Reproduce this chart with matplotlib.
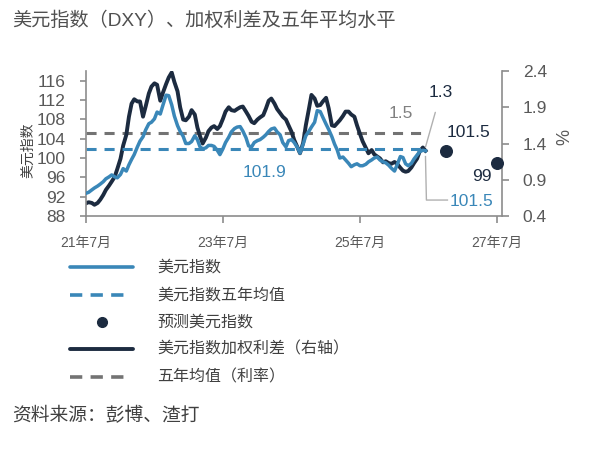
import numpy as np
import pandas as pd
import matplotlib
matplotlib.use('Agg')
import matplotlib.pyplot as plt
from matplotlib.lines import Line2D

plt.rcParams['font.family'] = ['Liberation Sans', 'Noto Sans CJK SC', 'DejaVu Sans']

# 数据（半月频，2021-07 至 2026-06）
fechas = pd.date_range('2021-07-01', periods=120, freq='SMS')

dxy = [92.7, 92.9, 93.4, 93.8, 94.2, 94.6, 95.1, 95.7, 96.1, 96.5,
       96.1, 95.9, 96.6, 97.8, 97.3, 98.6, 99.7, 100.7, 102.3, 103.5,
       104.4, 105.8, 107.1, 107.4, 108.1, 109.5, 109.1, 110.9, 113.0, 112.9,
       111.0, 108.7, 106.7, 105.5, 104.5, 103.0, 103.0, 103.4, 104.6, 103.8,
       102.3, 101.9, 102.1, 102.6, 102.6, 102.4, 101.6, 100.7, 101.9, 103.2,
       104.3, 105.4, 106.1, 106.4, 106.5, 105.6, 104.2, 102.5, 102.3, 103.2,
       103.6, 103.8, 104.3, 104.8, 105.5, 106.0, 106.2, 105.4, 104.8, 103.2,
       102.3, 103.6, 103.8, 103.2, 102.2, 101.0, 102.9, 104.6, 105.5, 106.4,
       107.4, 109.8, 109.6, 108.4, 107.0, 105.9, 104.4, 102.9, 101.7, 100.0,
       100.2, 99.6, 98.9, 98.2, 98.6, 98.8, 98.4, 98.4, 98.7, 99.2,
       99.6, 100.0, 100.2, 99.6, 99.2, 99.0, 98.5, 97.9, 97.3, 98.6,
       100.3, 100.1, 98.8, 98.4, 98.9, 99.8, 100.6, 101.3, 101.6, 101.5]

diferencial = [0.575, 0.59, 0.58, 0.555, 0.58, 0.625, 0.69, 0.76, 0.82, 0.875,
               0.94, 1.05, 1.19, 1.37, 1.52, 1.77, 1.95, 2.01, 1.98, 1.98,
               1.77, 1.91, 2.09, 2.185, 2.23, 2.21, 1.99, 2.10, 2.22, 2.31,
               2.38, 2.25, 2.12, 1.90, 1.73, 1.72, 1.77, 1.86, 1.80, 1.62,
               1.50, 1.40, 1.48, 1.57, 1.62, 1.64, 1.60, 1.64, 1.74, 1.84,
               1.90, 1.86, 1.85, 1.875, 1.90, 1.91, 1.84, 1.78, 1.70, 1.68,
               1.73, 1.76, 1.79, 1.88, 1.99, 2.02, 1.95, 1.875, 1.82, 1.77,
               1.73, 1.65, 1.56, 1.45, 1.35, 1.265, 1.41, 1.65, 1.87, 2.07,
               2.02, 1.92, 1.93, 1.98, 2.03, 1.885, 1.65, 1.64, 1.68, 1.72,
               1.78, 1.84, 1.84, 1.80, 1.77, 1.65, 1.53, 1.43, 1.34, 1.265,
               1.31, 1.25, 1.22, 1.195, 1.14, 1.155, 1.13, 1.12, 1.145, 1.12,
               1.065, 1.025, 1.01, 1.02, 1.07, 1.13, 1.19, 1.29, 1.345, 1.30]

media_dxy = 101.9
media_dif = 1.55

fechas_pred = pd.to_datetime(['2026-09-30', '2027-06-30'])
dxy_pred = [101.5, 99]

azul = '#3a87b8'
marino = '#1c2b40'
gris = '#737373'
gris_txt = '#595959'

fig = plt.figure(figsize=(5.92, 4.62), dpi=100)
W, H = 592, 462
ax = fig.add_axes([86 / W, 1 - 216 / H, (502 - 86) / W, (216 - 71) / H])
ax2 = ax.twinx()

# series
ax.plot(fechas, dxy, color=azul, lw=2.5, zorder=3)
ax.plot([fechas[0], fechas[-1]], [media_dxy, media_dxy], color=azul, lw=2.2,
        dashes=(3.3, 2.6), zorder=2)
ax2.plot(fechas, diferencial, color=marino, lw=2.8, zorder=3)
ax2.plot([fechas[0], fechas[-1]], [media_dif, media_dif], color=gris, lw=2.2,
         dashes=(3.3, 2.6), zorder=2)
ax.scatter(fechas_pred, dxy_pred, s=70, color=marino, zorder=4, clip_on=False)

ax.set_zorder(ax2.get_zorder() + 1)
ax.patch.set_visible(False)

ax.set_xlim(pd.Timestamp('2021-07-01'), pd.Timestamp('2027-07-28'))
ax.set_ylim(88, 118)
ax2.set_ylim(0.4, 2.4)
ax.set_yticks(np.arange(88, 117, 4))
ax2.set_yticks([0.4, 0.9, 1.4, 1.9, 2.4])

ticks_x = pd.to_datetime(['2021-07-01', '2023-07-01', '2025-07-01', '2027-07-01'])
ax.set_xticks(ticks_x)
ax.set_xticklabels(['21年7月', '23年7月', '25年7月', '27年7月'])

for a in (ax, ax2):
    a.spines['top'].set_visible(False)
    for s in ('left', 'right', 'bottom'):
        a.spines[s].set_color('#8c8c8c')
        a.spines[s].set_linewidth(1.2)
ax.spines['right'].set_visible(False)
ax2.spines['left'].set_visible(False)
ax2.spines['bottom'].set_visible(False)

ax.tick_params(axis='y', labelsize=12.5, colors=gris_txt, length=4, pad=11, width=1.2)
ax.tick_params(axis='y', color='#8c8c8c')
ax.tick_params(axis='x', labelsize=10, colors=gris_txt, length=5, pad=9, width=1.2)
ax.tick_params(axis='x', color='#8c8c8c')
ax2.tick_params(axis='y', labelsize=12.5, colors=gris_txt, length=5, pad=10, width=1.2)
ax2.tick_params(axis='y', color='#8c8c8c')

ax.set_ylabel('美元指数', fontsize=10, color='#404040')
ax.yaxis.set_label_coords(-0.122, 0.455)
ax2.set_ylabel('%', fontsize=13, color=gris_txt)
ax2.yaxis.set_label_coords(1.13, 0.545)

# etiquetas de valores
ax.text(pd.Timestamp('2024-02-10'), 96.9, '101.9', color=azul, fontsize=12.5,
        ha='center', va='center')
ax2.text(pd.Timestamp('2026-02-01'), 1.82, '1.5', color='#808080', fontsize=12.5,
         ha='center', va='center')
ax2.annotate('1.3', xy=(fechas[-1], diferencial[-1] + 0.05),
             xytext=(pd.Timestamp('2026-09-05'), 2.10), color=marino, fontsize=12.5,
             ha='center', va='center',
             arrowprops=dict(arrowstyle='-', color='#b0b0b0', lw=1,
                             shrinkA=7, shrinkB=0))
ax.text(pd.Timestamp('2027-02-01'), 105.2, '101.5', color=marino, fontsize=12.5,
        ha='center', va='center')
ax.text(pd.Timestamp('2027-06-05'), 96.1, '99', color=marino, fontsize=12.5,
        ha='right', va='center')
ax.plot([fechas[-1], pd.Timestamp('2026-06-20'), pd.Timestamp('2026-10-10')],
        [100.3, 91.3, 91.3], color='#b0b0b0', lw=1, zorder=1)
ax.text(pd.Timestamp('2027-02-15'), 90.9, '101.5', color=azul, fontsize=12.5,
        ha='center', va='center')

# título y fuente
fig.text(12 / W, 1 - 21 / H, '美元指数（DXY）、加权利差及五年平均水平', fontsize=13.8,
         color='#505050', ha='left', va='center')
fig.text(12 / W, 1 - 416 / H, '资料来源：彭博、渣打', fontsize=13.5,
         color='#404040', ha='left', va='center')

# leyenda
leyenda = [
    ('美元指数', dict(color=azul, lw=2.6, solid_capstyle='round')),
    ('美元指数五年均值', dict(color=azul, lw=2.6, dashes=(3.4, 2.3))),
    ('预测美元指数', None),
    ('美元指数加权利差（右轴）', dict(color=marino, lw=2.8, solid_capstyle='round')),
    ('五年均值（利率）', dict(color=gris, lw=2.6, dashes=(3.4, 2.3))),
]
filas = [267, 295, 322, 349, 377]
for (txt, estilo), yy in zip(leyenda, filas):
    fy = 1 - yy / H
    if estilo is None:
        fig.add_artist(Line2D([102 / W], [fy], marker='o', markersize=7,
                              color=marino, lw=0))
    else:
        x1 = 133 if 'dashes' not in estilo else 124
        fig.add_artist(Line2D([70 / W, x1 / W], [fy, fy], **estilo))
    fig.text(157 / W, fy, txt, fontsize=11.5, color='#404040', ha='left', va='center')

fig.savefig('out.png', dpi=100)
